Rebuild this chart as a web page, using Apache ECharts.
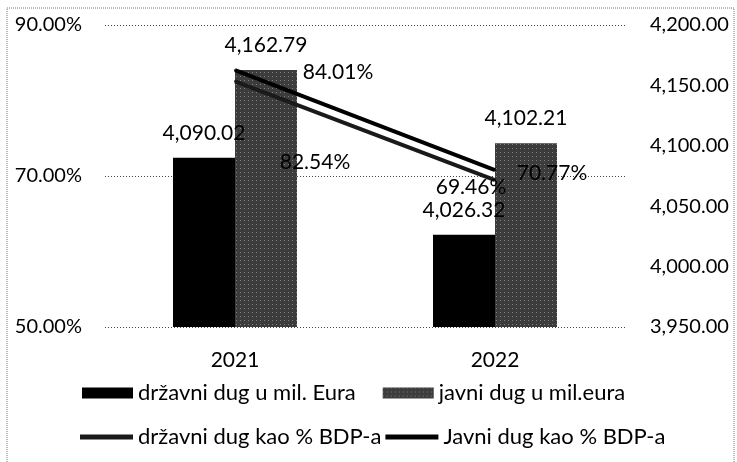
<!DOCTYPE html>
<html>
<head>
<meta charset="utf-8">
<script src="https://cdn.jsdelivr.net/npm/echarts@6/dist/echarts.min.js"></script>
<style>html,body{margin:0;padding:0;background:#fff;}#c{width:737px;height:462px;}</style>
</head>
<body>
<div id="c"></div>
<script>
var categories = ['2021', '2022'];
var drzavniDugMil = [4090.02, 4026.32];
var javniDugMil = [4162.79, 4102.21];
var drzavniDugPct = [82.54, 69.46];
var javniDugPct = [84.01, 70.77];
var leftTicks = [50, 70, 90];
var rightTicks = [3950, 4000, 4050, 4100, 4150, 4200];

var FONT = 'Lato';
function fmtNum(v){ return Number(v).toLocaleString('en-US',{minimumFractionDigits:2, maximumFractionDigits:2}); }
function fmtPct(v){ return Number(v).toFixed(2) + '%'; }

var drzPctOffsets = [[80, 81], [-24, 7]];
var javPctOffsets = [[103, 2], [57, 3]];

var chart = echarts.init(document.getElementById('c'), null, {renderer:'canvas'});
var option = {
  backgroundColor: '#fff',
  animation: false,
  textStyle: {fontFamily: FONT, color: '#000'},
  graphic: [{
    type: 'rect', shape: {x: 7, y: 8, width: 727, height: 470},
    style: {fill: 'none', stroke: '#777', lineWidth: 1, lineDash: [1, 1]}, z: -1
  }],
  grid: {left: 105, right: 112, top: 25, bottom: 135},
  legend: [{
    data: [{name: 'državni dug u mil. Eura', icon: 'rect'}, {name: 'javni dug u mil.eura', icon: 'rect'}],
    left: 77, top: 377, itemWidth: 51, itemHeight: 11, itemGap: 27,
    textStyle: {fontFamily: FONT, fontSize: 22, color: '#000'}
  }, {
    data: [{name: 'državni dug kao % BDP-a', icon: 'rect'}, {name: 'Javni dug kao % BDP-a', icon: 'rect'}],
    left: 75, top: 421, itemWidth: 53, itemHeight: 5, itemGap: 4,
    textStyle: {fontFamily: FONT, fontSize: 22, color: '#000'}
  }],
  xAxis: {
    type: 'category', data: categories,
    axisLine: {show: false}, axisTick: {show: false},
    axisLabel: {fontFamily: FONT, fontSize: 21, color: '#000', margin: 23}
  },
  yAxis: [{
    type: 'value', min: leftTicks[0], max: leftTicks[leftTicks.length-1], interval: leftTicks[1]-leftTicks[0],
    axisLine: {show: false}, axisTick: {show: false},
    axisLabel: {fontFamily: FONT, fontSize: 20, color: '#000', margin: 23, formatter: fmtPct},
    splitLine: {show: true, lineStyle: {color: '#444', type: [1, 2], width: 1}}
  }, {
    type: 'value', min: rightTicks[0], max: rightTicks[rightTicks.length-1], interval: rightTicks[1]-rightTicks[0],
    axisLine: {show: false}, axisTick: {show: false},
    axisLabel: {fontFamily: FONT, fontSize: 20, color: '#000', margin: 25, formatter: fmtNum},
    splitLine: {show: false}
  }],
  series: [{
    name: 'državni dug u mil. Eura', type: 'bar', yAxisIndex: 1, data: drzavniDugMil,
    barWidth: 62, barGap: '0%',
    itemStyle: {color: '#000'},
    label: {show: true, position: 'top', distance: 14, fontFamily: FONT, fontSize: 21, color: '#000', formatter: function(p){return fmtNum(p.value);}}
  }, {
    name: 'javni dug u mil.eura', type: 'bar', yAxisIndex: 1, data: javniDugMil,
    barWidth: 62, barGap: '0%',
    itemStyle: {color: '#3c3c3c', decal: {symbol: 'rect', symbolSize: 1, color: 'rgba(255,255,255,0.35)', dashArrayX: [[1, 3]], dashArrayY: [1, 3], rotation: 0}},
    label: {show: true, position: 'top', distance: 14, fontFamily: FONT, fontSize: 21, color: '#000', formatter: function(p){return fmtNum(p.value);}}
  }, {
    name: 'državni dug kao % BDP-a', type: 'line', yAxisIndex: 0,
    data: drzavniDugPct.map(function(v, i){ return {value: v, label: {offset: drzPctOffsets[i]}}; }),
    symbol: 'circle', symbolSize: 2,
    lineStyle: {color: '#1a1a1a', width: 4}, itemStyle: {color: '#1a1a1a'},
    label: {show: true, position: 'inside', fontFamily: FONT, fontSize: 21, color: '#000', formatter: function(p){return fmtPct(p.value);}}
  }, {
    name: 'Javni dug kao % BDP-a', type: 'line', yAxisIndex: 0,
    data: javniDugPct.map(function(v, i){ return {value: v, label: {offset: javPctOffsets[i]}}; }),
    symbol: 'circle', symbolSize: 2,
    lineStyle: {color: '#000', width: 4}, itemStyle: {color: '#000'},
    label: {show: true, position: 'inside', fontFamily: FONT, fontSize: 21, color: '#000', formatter: function(p){return fmtPct(p.value);}}
  }]
};
chart.setOption(option);
</script>
</body>
</html>
